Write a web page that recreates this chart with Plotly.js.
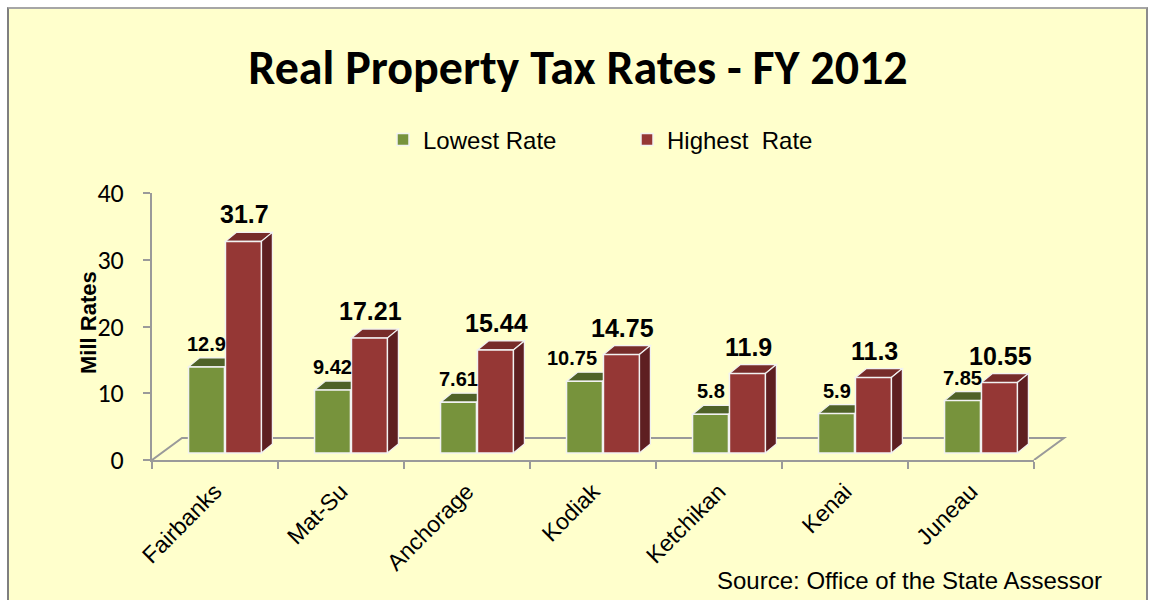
<!DOCTYPE html>
<html>
<head>
<meta charset="utf-8">
<script src="https://cdn.plot.ly/plotly-3.0.1.min.js"></script>
<style>
  html, body { margin: 0; padding: 0; background: #ffffff; overflow: hidden; }
  #frame { position: absolute; left: 7px; top: 7px; width: 1137px; height: 620px;
           background: #FFFFCC; border-left: 2px solid #7f7f7f; border-top: 2px solid #a6a6a6;
           border-right: 2px solid #8c8c8c; }
  #chart { position: absolute; left: 0; top: 0; width: 1149px; height: 600px; }
</style>
</head>
<body>
<div id="frame"></div>
<div id="chart"></div>
<script>
const categories = ['Fairbanks', 'Mat-Su', 'Anchorage', 'Kodiak', 'Ketchikan', 'Kenai', 'Juneau'];
const lowestRate = [12.9, 9.42, 7.61, 10.75, 5.8, 5.9, 7.85];
const highestRate = [31.7, 17.21, 15.44, 14.75, 11.9, 11.3, 10.55];
const lowLabels = ['12.9', '9.42', '7.61', '10.75', '5.8', '5.9', '7.85'];
const highLabels = ['31.7', '17.21', '15.44', '14.75', '11.9', '11.3', '10.55'];
const yTicks = [0, 10, 20, 30, 40];

// geometry (styling)
const W = 1149, H = 600;
const mL = 152, mR = 115, mT = 193, mB = 140;
const plotW = W - mL - mR, plotH = H - mT - mB;
const pxPerCat = plotW / categories.length;
const pxPerUnit = plotH / 40;
const baseLiftPx = 7;            // bars stand slightly behind the floor front edge
const barW = 0.285, offLow = -0.21, offHigh = 0.083;
const depthX = 11 / pxPerCat, depthY = 9 / pxPerUnit;
const floorDX = 30 / plotW, floorDY = 22 / pxPerUnit;

const colors = {
  lowFront: '#77933C', lowTop: '#4F6228', lowSide: '#3F4F20',
  highFront: '#953735', highTop: '#772C2A', highSide: '#5E1F21'
};

const traces = [
  { type: 'bar', name: 'Lowest Rate', x: categories, y: lowestRate, yaxis: 'y2',
    width: barW, offset: offLow,
    marker: { color: colors.lowFront, line: { color: '#F2F2F2', width: 1.5 } },
    hoverinfo: 'x+y' },
  { type: 'bar', name: 'Highest\u00a0 Rate', x: categories, y: highestRate, yaxis: 'y2',
    width: barW, offset: offHigh,
    marker: { color: colors.highFront, line: { color: '#F2F2F2', width: 1.5 } },
    hoverinfo: 'x+y' }
];

const shapes = [];
// floor outline
shapes.push({ type: 'path', xref: 'paper', yref: 'y', layer: 'below',
  path: `M 0,0 L ${floorDX},${floorDY} L ${1 + floorDX},${floorDY} L 1,0`,
  line: { color: '#9a9a9a', width: 2 }, fillcolor: 'rgba(0,0,0,0)' });

function addFaces(values, off, top, side, withSide) {
  values.forEach((v, i) => {
    const x0 = i + off, x1 = i + off + barW;
    shapes.push({ type: 'path', xref: 'x', yref: 'y2', layer: 'below',
      path: `M ${x0},${v} L ${x0 + depthX},${v + depthY} L ${x1 + depthX},${v + depthY} L ${x1},${v} Z`,
      fillcolor: top, line: { color: '#F2F2F2', width: 1.2 } });
    if (withSide) {
      shapes.push({ type: 'path', xref: 'x', yref: 'y2', layer: 'below',
        path: `M ${x1},0 L ${x1 + depthX},${depthY} L ${x1 + depthX},${v + depthY} L ${x1},${v} Z`,
        fillcolor: side, line: { color: '#F2F2F2', width: 1.2 } });
    }
  });
}
addFaces(lowestRate, offLow, colors.lowTop, colors.lowSide, false);
addFaces(highestRate, offHigh, colors.highTop, colors.highSide, true);

const annotations = [];
lowestRate.forEach((v, i) => {
  // long labels are nudged left so they clear the taller neighbouring bar
  const nudge = lowLabels[i].length > 4 ? -13 : 0;
  annotations.push({ xref: 'x', yref: 'y2', x: i + offLow + barW / 2, y: v, yanchor: 'bottom',
    yshift: 10, xshift: nudge, text: lowLabels[i], showarrow: false,
    font: { family: 'Liberation Sans, Arial, sans-serif', size: 20, color: '#000', weight: 'bold' } });
});
highestRate.forEach((v, i) => {
  annotations.push({ xref: 'x', yref: 'y2', x: i + offHigh + barW / 2 + 0.01, y: v, yanchor: 'bottom',
    yshift: 11, text: highLabels[i], showarrow: false,
    font: { family: 'Liberation Sans, Arial, sans-serif', size: 25, color: '#000', weight: 'bold' } });
});
annotations.push({ xref: 'paper', yref: 'paper', x: (88 - mL) / plotW, y: (H - mB - 323) / plotH,
  xanchor: 'center', yanchor: 'middle', textangle: -90, text: 'Mill Rates', showarrow: false,
  font: { family: 'Liberation Sans, Arial, sans-serif', size: 22, color: '#000', weight: 'bold' } });
annotations.push({ xref: 'paper', yref: 'paper', x: (1104 - mL) / plotW, y: (H - mB - 580) / plotH,
  xanchor: 'right', yanchor: 'middle', text: 'Source: Office of the State Assessor', showarrow: false,
  font: { family: 'Liberation Sans, Arial, sans-serif', size: 24, color: '#000' } });

const layout = {
  width: W, height: H,
  margin: { l: mL, r: mR, t: mT, b: mB },
  paper_bgcolor: 'rgba(0,0,0,0)', plot_bgcolor: 'rgba(0,0,0,0)',
  title: { text: 'Real Property Tax Rates - FY 2012', xref: 'container', yref: 'container',
    x: 578 / W, y: 1 - 67 / H, xanchor: 'center', yanchor: 'middle',
    font: { family: "Carlito, 'Liberation Sans Narrow', 'Arial Narrow', sans-serif", size: 48, color: '#000', weight: 'bold' } },
  showlegend: true,
  legend: { orientation: 'h', xref: 'container', yref: 'container', x: 383 / W, y: 1 - 140 / H,
    xanchor: 'left', yanchor: 'middle', entrywidth: 199, entrywidthmode: 'pixels',
    bgcolor: 'rgba(0,0,0,0)', traceorder: 'normal',
    font: { family: 'Liberation Sans, Arial, sans-serif', size: 24, color: '#000' } },
  barmode: 'group',
  xaxis: { type: 'category', range: [-0.5, categories.length - 0.5], fixedrange: true,
    showline: true, linecolor: '#9a9a9a', linewidth: 2, ticks: 'outside', tickson: 'boundaries',
    ticklen: 7, tickwidth: 2, tickcolor: '#9a9a9a', tickangle: -45, showgrid: false, zeroline: false,
    ticklabelstandoff: 7,
    tickfont: { family: 'Liberation Sans, Arial, sans-serif', size: 23, color: '#000' } },
  yaxis: { range: [0, 40], tickvals: yTicks, ticktext: yTicks.map(String), showline: true,
    linecolor: '#9a9a9a', linewidth: 2, ticks: 'outside', ticklen: 7, tickwidth: 2, tickcolor: '#9a9a9a',
    showgrid: false, zeroline: false, ticklabelstandoff: 14, fixedrange: true,
    tickfont: { family: "Carlito, 'Open Sans', sans-serif", size: 26, color: '#000' } },
  yaxis2: { overlaying: 'y', range: [-baseLiftPx / pxPerUnit, 40 - baseLiftPx / pxPerUnit],
    visible: false, fixedrange: true },
  shapes: shapes,
  annotations: annotations
};

Plotly.newPlot('chart', traces, layout, { displayModeBar: false, staticPlot: true });
</script>
</body>
</html>
